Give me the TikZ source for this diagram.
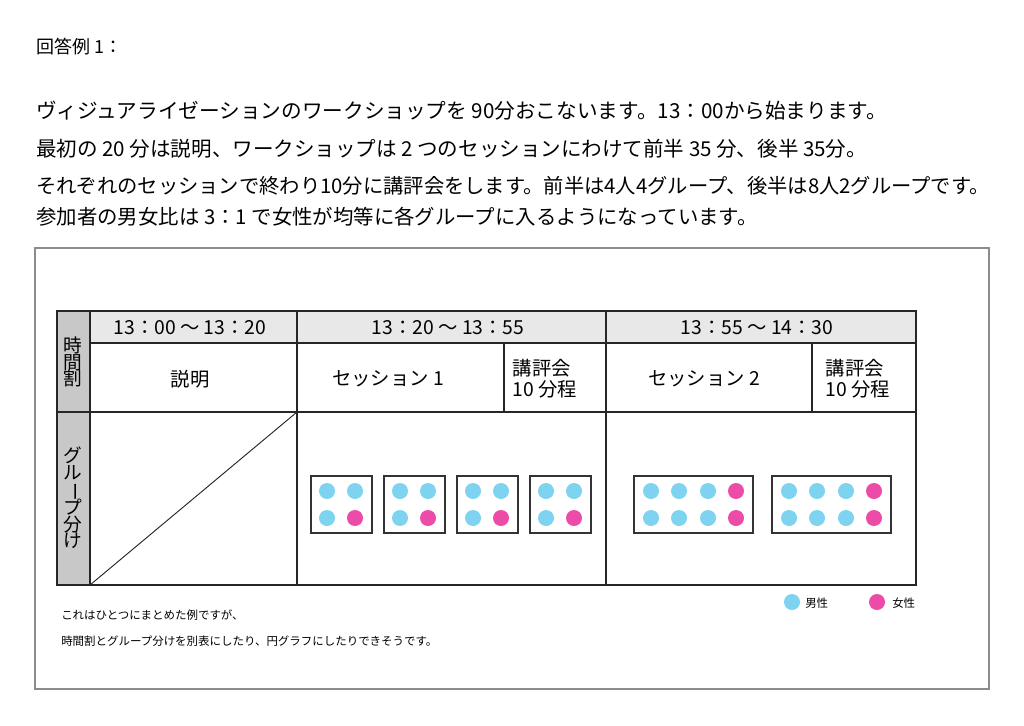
\documentclass[tikz,border=0pt]{standalone}
\usepackage{fontspec}
\usepackage{graphicx}
\setmainfont{Noto Sans CJK JP}
\definecolor{mblue}{HTML}{7DD3F0}
\definecolor{fpink}{HTML}{EC4BA8}
\definecolor{colgray}{HTML}{C8C8C8}
\definecolor{hdgray}{HTML}{E8E8E8}
\newcommand{\vbar}{\rotatebox[origin=c]{-90}{ー}}
\begin{document}
\begin{tikzpicture}[x=0.75pt,y=-0.75pt,
  para/.style={anchor=west,inner sep=0,font=\fontsize{13.5}{15}\selectfont},
  cell/.style={inner sep=0,font=\fontsize{14.5}{16}\selectfont},
  note/.style={anchor=west,inner sep=0,font=\fontsize{8.6}{10}\selectfont},
  vtext/.style={inner sep=0,align=center,font=\fontsize{14}{15.5}\selectfont},
  grp/.style={draw=black!80,line width=0.8pt,fill=white},
  tline/.style={draw=black!85,line width=0.9pt},
  man/.style={fill=mblue},
  wom/.style={fill=fpink}]
\useasboundingbox (0,0) rectangle (1024,725);
\fill[white] (0,0) rectangle (1024,725);
\node[para] (t0) at (36,47) {回答例 1：};
\node[para] (t1) at (36,111) {\resizebox{638pt}{!}{ヴィジュアライゼーションのワークショップを 90分おこないます。13：00から始まります。}};
\node[para] (t2) at (36,149) {\resizebox{623pt}{!}{最初の 20 分は説明、ワークショップは 2 つのセッションにわけて前半 35 分、後半 35分。}};
\node[para] (t3) at (36,186) {\resizebox{715pt}{!}{それぞれのセッションで終わり10分に講評会をします。前半は4人4グループ、後半は8人2グループです。}};
\node[para] (t4) at (36,217) {\resizebox{541pt}{!}{参加者の男女比は 3：1 で女性が均等に各グループに入るようになっています。}};
% frame
\draw[black!45,line width=0.8pt] (35,248) rectangle (989,689);
% table fills
\fill[colgray] (57,311) rectangle (90,585);
\fill[hdgray] (90,311) rectangle (916,343);
\draw[tline] (57,311) rectangle (916,585);
\draw[tline] (90,311) -- (90,585);
\draw[tline] (90,343) -- (916,343);
\draw[tline] (57,412) -- (916,412);
\draw[tline] (297,311) -- (297,585);
\draw[tline] (606,311) -- (606,585);
\draw[tline] (504,343) -- (504,412);
\draw[tline] (812,343) -- (812,412);
\draw[black!85,line width=0.7pt] (90,585) -- (297,412);
% texts
\node[cell] (h1) at (190,328) {13：00 ～ 13：20};
\node[cell] (h2) at (448,328) {13：20 ～ 13：55};
\node[cell] (h3) at (757,328) {13：55 ～ 14：30};
\node[cell] (c1) at (190,379) {説明};
\node[cell] (c2) at (388,379) {セッション 1};
\node[cell,align=left] (c3) at (545,379) {講評会\\10 分程};
\node[cell] (c4) at (704,379) {セッション 2};
\node[cell,align=left] (c5) at (858,379) {講評会\\10 分程};
\node[vtext] (v1) at (73,362) {時\\[-3pt]間\\[-3pt]割};
\node[vtext] (v2) at (73,498) {グ\\[-3pt]ル\\[-3pt]\vbar\\[-3pt]プ\\[-3pt]分\\[-3pt]け};
% session1 groups
\foreach \x [count=\i] in {311,384,457,530}{
  \draw[grp] (\x,476) rectangle ++(61,57);
  \fill[man] (\x+16,491) circle (8);
  \fill[man] (\x+44,491) circle (8);
  \fill[man] (\x+16,518) circle (8);
  \fill[wom] (\x+44,518) circle (8);
}
\foreach \x in {634,772}{
  \draw[grp] (\x,476) rectangle ++(119,57);
  \foreach \d in {17,45,74}{
    \fill[man] (\x+\d,491) circle (8);
    \fill[man] (\x+\d,518) circle (8);
  }
  \fill[wom] (\x+102,491) circle (8);
  \fill[wom] (\x+102,518) circle (8);
}
% legend
\fill[man] (792,602) circle (8);
\node[note] (lm) at (805,603) {男性};
\fill[wom] (877,602) circle (8);
\node[note] (lw) at (892,603) {女性};
% notes
\node[note] (n1) at (61,615) {これはひとつにまとめた例ですが、};
\node[note] (n2) at (61,641) {時間割とグループ分けを別表にしたり、円グラフにしたりできそうです。};
\end{tikzpicture}
\end{document}
